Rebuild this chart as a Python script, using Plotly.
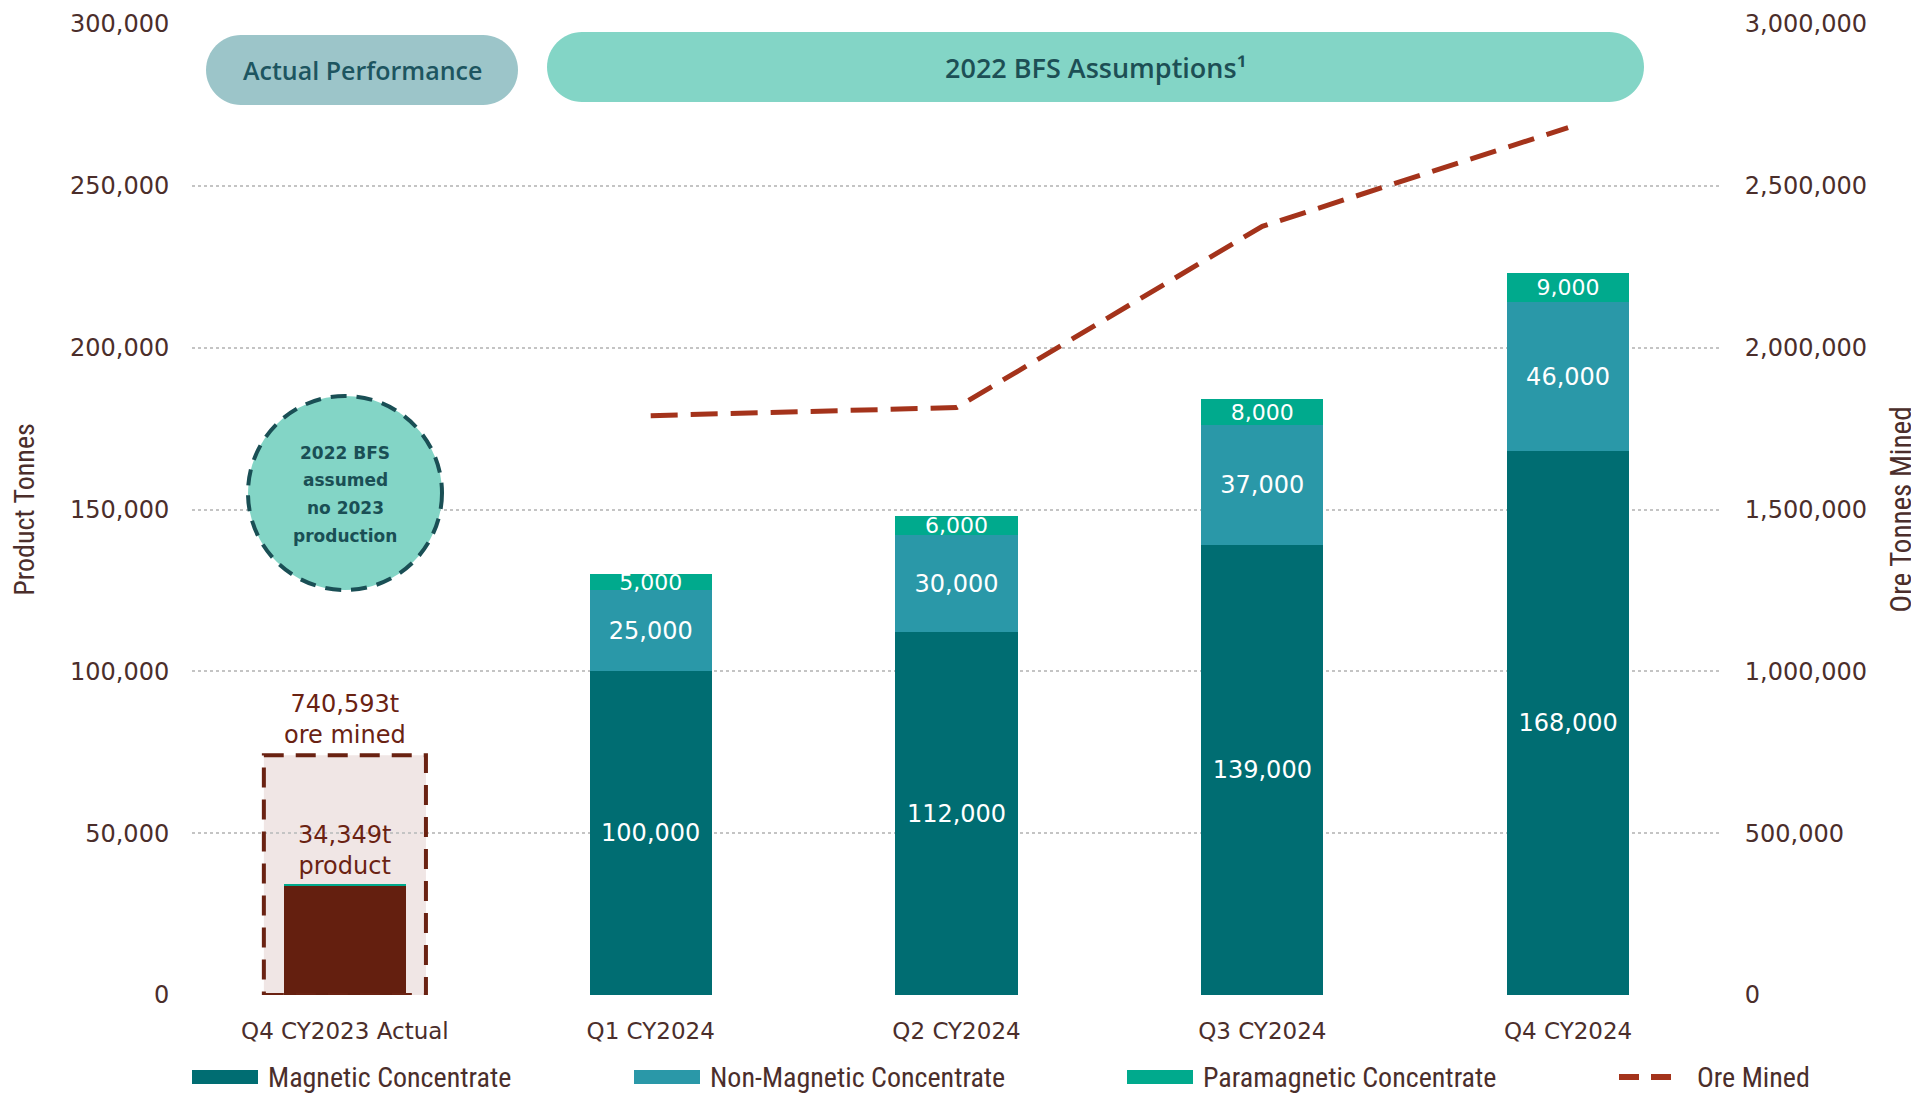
import plotly.graph_objects as go

# ---------------- data ----------------
categories = ["Q4 CY2023 Actual", "Q1 CY2024", "Q2 CY2024", "Q3 CY2024", "Q4 CY2024"]
magnetic = [33649, 100000, 112000, 139000, 168000]
non_magnetic = [0, 25000, 30000, 37000, 46000]
paramagnetic = [700, 5000, 6000, 8000, 9000]
ore_categories = ["Q1 CY2024", "Q2 CY2024", "Q3 CY2024", "Q4 CY2024"]
ore_mined = [1790000, 1815000, 2375000, 2680000]
actual_ore_mined = 740593
actual_product = 34349
left_ticks = [0, 50000, 100000, 150000, 200000, 250000, 300000]
right_ticks = [0, 500000, 1000000, 1500000, 2000000, 2500000, 3000000]
circle_note = ["2022 BFS", "assumed", "no 2023", "production"]

# ---------------- styles ----------------
C_MAG = "#006D72"
C_NONMAG = "#2A98A8"
C_PARA = "#00AA8D"
C_ACTUAL = "#641F0F"
C_ORE = "#A4331B"
C_TEXT = "#4B2E2B"
C_BROWN = "#6A2212"
TICK_FONT = dict(family="DejaVu Sans, Verdana, sans-serif", size=24, color=C_TEXT)
NARROW = "Liberation Sans Narrow, Arial Narrow, Roboto Condensed, sans-serif"
SEMI = "Open Sans, DejaVu Sans, sans-serif"

# page body has an 8px margin: figure is sized/offset to compensate
BODY = 8
L, T, W, H = 192, 24, 1529, 971          # plot area in screen pixels
FIG_W, FIG_H = 1919 - BODY, 1093 - BODY


def px(x):
    return (x - L) / W


def py(y):
    return (T + H - y) / H


def fmt(v):
    return f"{v:,}"


fig = go.Figure()

mag_text = [""] + [fmt(v) for v in magnetic[1:]]
nonmag_text = [""] + [fmt(v) for v in non_magnetic[1:]]
para_text = [""] + [fmt(v) for v in paramagnetic[1:]]
mag_colors = [C_ACTUAL] + [C_MAG] * (len(categories) - 1)

fig.add_trace(go.Bar(
    name="Magnetic Concentrate", x=categories, y=magnetic, marker_color=mag_colors,
    marker_line_width=0, text=mag_text, textposition="inside", insidetextanchor="middle",
    constraintext="none", textfont=dict(family="DejaVu Sans, sans-serif", size=24, color="white"),
    width=0.4, showlegend=False, hoverinfo="x+y"))
fig.add_trace(go.Bar(
    name="Non-Magnetic Concentrate", x=categories, y=non_magnetic, marker_color=C_NONMAG,
    marker_line_width=0, text=nonmag_text, textposition="inside", insidetextanchor="middle",
    constraintext="none", textfont=dict(family="DejaVu Sans, sans-serif", size=24, color="white"),
    width=0.4, showlegend=False, hoverinfo="x+y"))
fig.add_trace(go.Bar(
    name="Paramagnetic Concentrate", x=categories, y=paramagnetic, marker_color=C_PARA,
    marker_line_width=0, text=para_text, textposition="inside", insidetextanchor="middle",
    constraintext="none", textfont=dict(family="DejaVu Sans, sans-serif", size=22, color="white"),
    width=0.4, showlegend=False, hoverinfo="x+y"))
fig.add_trace(go.Scatter(
    name="Ore Mined", x=ore_categories, y=ore_mined, yaxis="y2", mode="lines",
    line=dict(color=C_ORE, width=5, dash="27px,13px"), showlegend=False))

shapes = []
annotations = []

# Actual quarter ore-mined box (secondary axis)
shapes.append(dict(type="rect", xref="x", yref="y2", x0=-0.265, x1=0.265, y0=0,
                   y1=actual_ore_mined, fillcolor="#F0E6E5", line=dict(width=0), layer="below"))
shapes.append(dict(type="rect", xref="x", yref="y2", x0=-0.265, x1=0.265, y0=0,
                   y1=actual_ore_mined, fillcolor="rgba(0,0,0,0)",
                   line=dict(color=C_BROWN, width=4, dash="20px,12px"), layer="above"))
annotations.append(dict(x=0, y=actual_ore_mined, xref="x", yref="y2", xanchor="center",
                        yanchor="bottom", yshift=4, showarrow=False,
                        text="740,593t<br>ore mined",
                        font=dict(family="DejaVu Sans, sans-serif", size=24, color=C_BROWN)))
annotations.append(dict(x=0, y=actual_product, xref="x", yref="y", xanchor="center",
                        yanchor="bottom", yshift=2, showarrow=False,
                        text="34,349t<br>product",
                        font=dict(family="DejaVu Sans, sans-serif", size=24, color=C_BROWN)))

# dashed circle note
cx, cy, r = 345, 493, 97
shapes.append(dict(type="circle", xref="paper", yref="paper",
                   x0=px(cx - r), x1=px(cx + r), y0=py(cy + r), y1=py(cy - r),
                   fillcolor="#83D5C6", line=dict(color="#1A4F55", width=4, dash="16px,10px"),
                   layer="above"))
for i, line in enumerate(circle_note):
    annotations.append(dict(x=px(cx), y=py(453 + 27.5 * i), xref="paper", yref="paper",
                            xanchor="center", yanchor="middle", showarrow=False, text=line,
                            font=dict(family="DejaVu Sans, sans-serif", size=17, weight="bold",
                                      color="#1A4F55")))


def pill(x0, y0, x1, y1):
    rr = (y1 - y0) / 2
    ym = (y0 + y1) / 2
    k = 0.5523 * rr
    pts = [("M", [(x0 + rr, y0)]), ("L", [(x1 - rr, y0)]),
           ("C", [(x1 - rr + k, y0), (x1, ym - k), (x1, ym)]),
           ("C", [(x1, ym + k), (x1 - rr + k, y1), (x1 - rr, y1)]),
           ("L", [(x0 + rr, y1)]),
           ("C", [(x0 + rr - k, y1), (x0, ym + k), (x0, ym)]),
           ("C", [(x0, ym - k), (x0 + rr - k, y0), (x0 + rr, y0)])]
    s = ""
    for cmd, plist in pts:
        s += cmd + " ".join(f"{px(a):.5f},{py(b):.5f}" for a, b in plist) + " "
    return s + "Z"


shapes.append(dict(type="path", xref="paper", yref="paper", path=pill(206, 35, 518, 105),
                   fillcolor="#9CC5C9", line=dict(width=0)))
annotations.append(dict(x=px(362), y=py(70), xref="paper", yref="paper", xanchor="center",
                        yanchor="middle", showarrow=False, text="Actual Performance",
                        font=dict(family=SEMI, size=25, weight=600, color="#1D5560")))
shapes.append(dict(type="path", xref="paper", yref="paper", path=pill(547, 32, 1644, 102),
                   fillcolor="#83D5C6", line=dict(width=0)))
annotations.append(dict(x=px(1095), y=py(67), xref="paper", yref="paper", xanchor="center",
                        yanchor="middle", showarrow=False, text="2022 BFS Assumptions¹",
                        font=dict(family=SEMI, size=27, weight=600, color="#1D4F55")))

# custom legend
leg_y = 1077
leg_items = [("rect", C_MAG, 192, "Magnetic Concentrate"),
             ("rect", C_NONMAG, 634, "Non-Magnetic Concentrate"),
             ("rect", C_PARA, 1127, "Paramagnetic Concentrate"),
             ("line", C_ORE, 1619, "Ore Mined")]
for kind, col, x0, label in leg_items:
    if kind == "rect":
        shapes.append(dict(type="rect", xref="paper", yref="paper", x0=px(x0), x1=px(x0 + 66),
                           y0=py(leg_y + 7), y1=py(leg_y - 7), fillcolor=col, line=dict(width=0)))
        tx = x0 + 74
    else:
        shapes.append(dict(type="line", xref="paper", yref="paper", x0=px(x0), x1=px(x0 + 58),
                           y0=py(leg_y), y1=py(leg_y), line=dict(color=col, width=6, dash="20px,12px")))
        tx = x0 + 76
    annotations.append(dict(x=px(tx), y=py(leg_y), xref="paper", yref="paper", xanchor="left",
                            yanchor="middle", showarrow=False, text=label,
                            font=dict(family=NARROW, size=28, color=C_TEXT)))

fig.update_layout(
    width=FIG_W, height=FIG_H,
    margin=dict(l=L - BODY, r=FIG_W - (L - BODY) - W, t=T - BODY, b=FIG_H - (T - BODY) - H,
                autoexpand=False),
    paper_bgcolor="white", plot_bgcolor="white",
    barmode="stack", bargap=0.6,
    showlegend=False,
    shapes=shapes, annotations=annotations,
    xaxis=dict(type="category", categoryorder="array", categoryarray=categories,
               range=[-0.5, 4.5], showgrid=False, zeroline=False, showline=False,
               automargin=False,
               ticks="outside", ticklen=15, tickcolor="rgba(0,0,0,0)",
               tickfont=dict(family="DejaVu Sans, sans-serif", size=23, color=C_TEXT)),
    yaxis=dict(range=[0, 300000], tickvals=left_ticks, tickformat=",", automargin=False,
               showgrid=True, gridcolor="#C4C4C4", griddash="dot", gridwidth=1.5,
               zeroline=False, showline=False, ticks="outside", ticklen=17,
               tickcolor="rgba(0,0,0,0)", tickfont=TICK_FONT,
               title=dict(text="Product Tonnes", standoff=29,
                          font=dict(family=NARROW, size=28, color=C_TEXT))),
    yaxis2=dict(range=[0, 3000000], tickvals=right_ticks, tickformat=",", overlaying="y",
                side="right", showgrid=False, zeroline=False, showline=False, automargin=False,
                ticks="outside", ticklen=18, tickcolor="rgba(0,0,0,0)", tickfont=TICK_FONT,
                title=dict(text="Ore Tonnes Mined", standoff=24,
                           font=dict(family=NARROW, size=29, color=C_TEXT))),
)

fig.write_html("out.html")
